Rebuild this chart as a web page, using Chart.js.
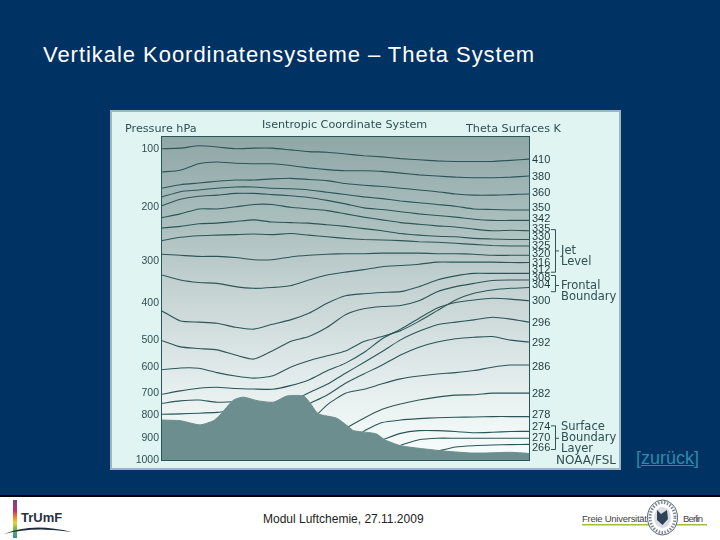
<!DOCTYPE html>
<html lang="de">
<head>
<meta charset="utf-8">
<title>Vertikale Koordinatensysteme – Theta System</title>
<script src="https://cdn.jsdelivr.net/npm/chart.js@4/dist/chart.umd.min.js"></script>
<style>
    html, body { margin: 0; padding: 0; }
    body { width: 720px; height: 540px; background: #003263; position: relative; overflow: hidden; font-family: "Liberation Sans", Arial, sans-serif; }
    #title { position: absolute; left: 43px; top: 42px; font-size: 22px; letter-spacing: 0.96px; line-height: 25px; color: #fff; white-space: nowrap; }
    #panel { position: absolute; left: 110px; top: 110px; width: 511px; height: 360px; outline: 2px solid #9db6c1; outline-offset: -2px; }
    #back { position: absolute; left: 636px; top: 447px; font-size: 18px; line-height: 22px; color: #2b8ba9; text-decoration: underline; white-space: nowrap; }
    #footer { position: absolute; left: 0; top: 495px; width: 720px; height: 45px; background: #fff; border-top: 2px solid #000; box-sizing: border-box; }
    #footerText { position: absolute; left: 263px; top: 15px; font-size: 12px; line-height: 14px; color: #222; white-space: nowrap; }
    #logos { position: absolute; left: 0; top: 0; }
</style>
</head>
<body>
<div id="title">Vertikale Koordinatensysteme – Theta System</div>
<div id="panel"><canvas id="thetaChart" width="511" height="360"></canvas></div>
<div id="back">[zurück]</div>
<div id="footer">
    <svg id="logos" width="720" height="43" xmlns="http://www.w3.org/2000/svg">
        <defs>
            <linearGradient id="rainbow" x1="0" y1="0" x2="0" y2="1">
                <stop offset="0" stop-color="#6b4a86"/>
                <stop offset="0.28" stop-color="#c0306a"/>
                <stop offset="0.45" stop-color="#e8892c"/>
                <stop offset="0.6" stop-color="#e6d23a"/>
                <stop offset="0.75" stop-color="#6fbf45"/>
                <stop offset="1" stop-color="#2a8fa8"/>
            </linearGradient>
        </defs>
        <rect x="13" y="3" width="4" height="38" fill="url(#rainbow)"/>
        <path d="M4 37 Q32 25 72 35 Q34 29 4 37 Z" fill="#1c2b3a"/>
        <text x="21" y="25" font-family="Liberation Sans" font-weight="bold" font-size="13" fill="#26323e">TrUmF</text>
        <text x="582" y="24.5" font-family="Liberation Sans" font-size="9.5" fill="#444" textLength="65">Freie Universität</text>
        <text x="683" y="24.5" font-family="Liberation Sans" font-size="9.5" fill="#444" textLength="20">Berlin</text>
        <rect x="582" y="27" width="125" height="1.5" fill="#9dbf3b"/>
        <ellipse cx="662.5" cy="20.5" rx="15" ry="17.5" fill="#fff" stroke="#5a6672" stroke-width="1"/>
        <ellipse cx="662.5" cy="20.5" rx="12.5" ry="15" fill="none" stroke="#7d8894" stroke-width="3" stroke-dasharray="1.5 1.5"/>
        <ellipse cx="662.5" cy="20.5" rx="8.5" ry="10.5" fill="#d8dde2"/>
        <path d="M657 13 L661 17 L667 13 L668 22 L662.5 28 L657 23 Z" fill="#2e4258"/>
    </svg>
    <div id="footerText">Modul Luftchemie, 27.11.2009</div>
</div>
<script>
// Position across the section (percent of its width)
const sectionX = [0, 5, 10, 15, 20, 25, 30, 35, 40, 45, 50, 55, 60, 65, 70, 75, 80, 85, 90, 95, 100];

// Pressure (hPa) of each theta surface at the sectionX positions
const theta410 = [100, 99, 95, 97, 100, 99, 99, 102, 105, 106, 109, 112, 114, 117, 119, 121, 122, 122, 122, 120, 118];
const theta380 = [140, 137, 126, 123, 125, 126, 126, 129, 133, 136, 138, 138, 139, 142, 145, 147, 149, 150, 150, 149, 147];
const theta360 = [168, 162, 159, 156, 154, 154, 152, 151, 153, 155, 160, 163, 165, 168, 171, 174, 178, 180, 180, 179, 178];
const theta350 = [183, 174, 171, 168, 166, 166, 168, 169, 171, 175, 179, 183, 186, 190, 193, 196, 199, 204, 205, 206, 206];
const theta342 = [198, 187, 182, 180, 177, 177, 179, 181, 184, 189, 195, 202, 205, 209, 213, 216, 219, 223, 225, 225, 225];
const theta335 = [220, 213, 204, 204, 200, 196, 196, 201, 204, 207, 213, 219, 224, 229, 232, 235, 237, 241, 244, 243, 244];
const theta330 = [239, 236, 231, 230, 227, 224, 228, 229, 230, 233, 236, 240, 244, 249, 252, 254, 255, 258, 259, 260, 260];
const theta325 = [262, 256, 253, 252, 251, 250, 251, 249, 252, 255, 258, 260, 261, 262, 264, 265, 267, 269, 271, 272, 272];
const theta320 = [287, 289, 291, 291, 293, 297, 297, 292, 289, 287, 286, 286, 285, 285, 285, 286, 286, 287, 289, 289, 289];
const theta316 = [333, 345, 351, 353, 361, 365, 363, 359, 345, 333, 326, 320, 313, 310, 307, 302, 302, 302, 302, 303, 303];
const theta312 = [422, 449, 452, 455, 466, 471, 458, 446, 428, 401, 383, 378, 375, 373, 361, 345, 335, 329, 329, 329, 329];
const theta308 = [503, 526, 532, 537, 556, 571, 541, 506, 491, 466, 432, 416, 410, 407, 395, 373, 361, 353, 346, 345, 345];
const theta304 = [611, 604, 605, 622, 635, 643, 635, 601, 577, 559, 541, 506, 491, 475, 450, 421, 393, 377, 369, 365, 363];
const theta300 = [706, 692, 682, 678, 683, 685, 686, 672, 650, 615, 586, 547, 497, 471, 442, 414, 399, 393, 389, 391, 395];
const theta296 = [747, 736, 732, 742, 740, 747, 747, 740, 699, 667, 624, 584, 543, 500, 477, 459, 452, 446, 439, 444, 452];
const theta292 = [797, 795, 792, 788, 780, 800, 800, 792, 750, 709, 663, 627, 593, 556, 527, 508, 497, 493, 491, 501, 508];
const theta286 = [null, null, null, null, null, null, null, null, 836, 754, 701, 686, 665, 646, 635, 627, 622, 614, 601, 593, 593];
const theta282 = [null, null, null, null, null, null, null, null, null, 939, 860, 814, 774, 750, 732, 719, 710, 708, 701, 701, 701];
const theta278 = [null, null, null, null, null, null, null, null, null, null, 947, 870, 833, 822, 816, 812, 810, 809, 807, 807, 807];
const theta274 = [null, null, null, null, null, null, null, null, null, null, null, null, 909, 880, 868, 868, 872, 877, 875, 872, 871];
const theta270 = [null, null, null, null, null, null, null, null, null, null, null, null, null, 933, 908, 901, 901, 901, 901, 901, 901];
const theta266 = [null, null, null, null, null, null, null, null, null, null, null, null, null, null, null, 960, 941, 935, 932, 930, 929];

const thetaSeries = [theta410, theta380, theta360, theta350, theta342, theta335, theta330, theta325, theta320, theta316, theta312,
    theta308, theta304, theta300, theta296, theta292, theta286, theta282, theta278, theta274, theta270, theta266];

// Ground surface
const terrainX = [0, 5, 10.4, 14, 15.8, 19.5, 22.2, 25.9, 30.4, 34, 38.6, 40.4, 42.6, 47.6, 50.8, 52.2, 56.7, 58.5, 60.8, 65.3, 76.2, 83.9, 88.5, 94.8, 100];
const terrainP = [822, 825, 843, 825, 800, 732, 719, 735, 742, 714, 714, 747, 795, 814, 851, 868, 877, 883, 909, 936, 958, 968, 968, 965, 970];

// Axis labels
const pressureTicks = [100, 200, 300, 400, 500, 600, 700, 800, 900, 1000];
const thetaLabels = ['410', '380', '360', '350', '342', '335', '330', '325', '320', '316', '312', '308', '304', '300', '296', '292', '286', '282', '278', '274', '270', '266'];
const thetaLabelP = [119, 148, 176, 202, 222, 241, 256, 272, 287, 303, 320, 340, 357, 396, 453, 510, 599, 706, 800, 853, 899, 944];

// The printed pressure axis is hand drawn: where each level sits, as a fraction of plot height
const axisTopP = 80;
const axisLevels = [80, 100, 200, 300, 400, 500, 600, 700, 800, 900, 1000];
const axisFractions = [0, 0.0363, 0.216, 0.3849, 0.5135, 0.6281, 0.7118, 0.7924, 0.8606, 0.9319, 1];

const lineColor = '#2d5558';
const textColor = '#2f4f52';

class PressureScale extends Chart.LinearScale {
    getPixelForValue(value) {
        let i = 1;
        while (i < axisLevels.length - 1 && value > axisLevels[i]) i++;
        const t = (value - axisLevels[i - 1]) / (axisLevels[i] - axisLevels[i - 1]);
        const frac = axisFractions[i - 1] + t * (axisFractions[i] - axisFractions[i - 1]);
        return this.top + frac * (this.bottom - this.top);
    }
}
PressureScale.id = 'pressure';
PressureScale.defaults = Chart.LinearScale.defaults;
Chart.register(PressureScale);

// Panel background, shaded plot, frame and the printed notes
const panelPlugin = {
    id: 'panel',
    beforeDraw(chart) {
        const { ctx, chartArea: a } = chart;
        ctx.save();
        ctx.fillStyle = '#e0f5f2';
        ctx.fillRect(0, 0, chart.width, chart.height);
        const shade = ctx.createLinearGradient(0, a.top, 0, a.bottom);
        shade.addColorStop(0, '#90a7a7');
        shade.addColorStop(0.25, '#a9bdbd');
        shade.addColorStop(0.5, '#c8d5d5');
        shade.addColorStop(0.75, '#e3ecec');
        shade.addColorStop(1, '#f8fefd');
        ctx.fillStyle = shade;
        ctx.fillRect(a.left, a.top, a.right - a.left, a.bottom - a.top);
        ctx.restore();
    },
    afterDraw(chart) {
        const { ctx, chartArea: a } = chart;
        const y = chart.scales.yTheta;
        ctx.save();
        ctx.strokeStyle = lineColor;
        ctx.lineWidth = 1;
        ctx.strokeRect(a.left - 0.5, a.top - 0.5, a.right - a.left + 1, a.bottom - a.top + 1);

        ctx.fillStyle = textColor;
        ctx.textBaseline = 'middle';
        ctx.font = '11.2px "DejaVu Sans"';
        ctx.fillText('Pressure hPa', 15, 19);
        ctx.fillText('Isentropic Coordinate System', 152, 15);
        ctx.fillText('Theta Surfaces K', 356, 19);

        // Brackets run between the labels they group
        const bracket = (topP, bottomP, midP) => {
            const t = y.getPixelForValue(topP), b = y.getPixelForValue(bottomP), m = y.getPixelForValue(midP);
            ctx.beginPath();
            ctx.moveTo(441, t + 0.5);
            ctx.lineTo(445.5, t + 0.5);
            ctx.lineTo(445.5, b + 0.5);
            ctx.lineTo(441, b + 0.5);
            ctx.moveTo(445.5, m + 0.5);
            ctx.lineTo(449, m + 0.5);
            ctx.stroke();
        };
        bracket(241, 325, 280);
        bracket(333, 372, 357);
        bracket(845, 950, 899);

        ctx.font = '11.5px "DejaVu Sans"';
        ctx.fillText('Jet', 451, 141);
        ctx.fillText('Level', 451, 152);
        ctx.fillText('Frontal', 451, 176);
        ctx.fillText('Boundary', 451, 187);
        ctx.fillText('Surface', 451, 317);
        ctx.fillText('Boundary', 451, 328);
        ctx.fillText('Layer', 451, 339);
        ctx.textAlign = 'right';
        ctx.font = '12px "DejaVu Sans"';
        ctx.fillText('NOAA/FSL', 506, 351);
        ctx.restore();
    }
};

const datasets = thetaSeries.map((values, i) => ({
    label: thetaLabels[i],
    data: values.map((p, k) => ({ x: sectionX[k], y: p })),
    borderColor: lineColor,
    borderWidth: 1.1,
    pointRadius: 0,
    tension: 0.2,
    fill: false,
    order: 2
}));
datasets.push({
    label: 'Terrain',
    data: terrainX.map((x, k) => ({ x: x, y: terrainP[k] })),
    borderColor: '#6d8e8e',
    backgroundColor: '#6d8e8e',
    borderWidth: 1,
    pointRadius: 0,
    tension: 0.2,
    fill: { value: 1000 },
    order: 1
});

new Chart(document.getElementById('thetaChart'), {
    type: 'line',
    data: { datasets: datasets },
    options: {
        responsive: false,
        animation: false,
        devicePixelRatio: 1,
        parsing: false,
        normalized: false,
        layout: { padding: { top: 27, bottom: 10, left: 0, right: 0 } },
        plugins: { legend: { display: false }, title: { display: false }, tooltip: { enabled: false } },
        scales: {
            x: { type: 'linear', min: 0, max: 100, display: false },
            y: {
                type: 'pressure',
                position: 'left',
                min: axisTopP,
                max: 1000,
                grid: { display: false, drawTicks: false },
                border: { display: false },
                afterBuildTicks: scale => { scale.ticks = pressureTicks.map(v => ({ value: v })); },
                afterFit: scale => { scale.width = 52; },
                ticks: {
                    autoSkip: false,
                    maxRotation: 0,
                    padding: 3,
                    color: textColor,
                    font: { family: 'Liberation Sans', size: 10.5 },
                    callback: value => String(value)
                }
            },
            yTheta: {
                type: 'pressure',
                axis: 'y',
                position: 'right',
                min: axisTopP,
                max: 1000,
                grid: { display: false, drawTicks: false },
                border: { display: false },
                afterBuildTicks: scale => { scale.ticks = thetaLabelP.map(v => ({ value: v })); },
                afterFit: scale => { scale.width = 92; },
                ticks: {
                    autoSkip: false,
                    maxRotation: 0,
                    padding: 3,
                    color: '#1f3a3d',
                    font: { family: 'Liberation Sans', size: 11 },
                    callback: (value, index) => thetaLabels[index]
                }
            }
        }
    },
    plugins: [panelPlugin]
});
</script>
</body>
</html>
